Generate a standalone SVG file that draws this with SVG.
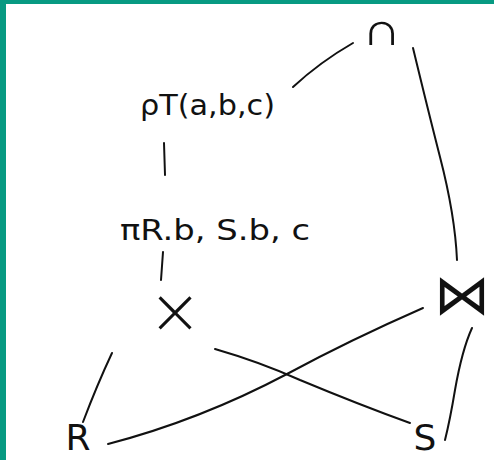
<svg xmlns="http://www.w3.org/2000/svg" width="494" height="460" viewBox="0 0 494 460">
<style>
.ink{fill:none;stroke:#111;stroke-width:2;stroke-linecap:round;stroke-linejoin:round}
.lbl{font-family:"DejaVu Sans","Liberation Sans",sans-serif;fill:#111}
</style>
<rect x="0" y="0" width="494" height="460" fill="#fff"/>
<rect x="0" y="0" width="494" height="4" fill="#079A82"/>
<rect x="0" y="0" width="6" height="460" fill="#079A82"/>
<g id="connectors">
<path class="ink" d="M353,43 Q320,62 293,87"/>
<path class="ink" d="M413,48 Q428,110 440,157 Q455,215 457,260"/>
<path class="ink" d="M164,143 L165,175"/>
<path class="ink" d="M163,252 L161,280"/>
<path class="ink" d="M112,353 Q97,385 83,422"/>
<path class="ink" d="M423,308 Q350,340 287,374 Q200,420 108,444"/>
<path class="ink" d="M215,349 Q260,362 300,380 Q360,405 410,423"/>
<path class="ink" d="M472,328 Q462,350 455,390 Q450,420 445,440"/>
</g>
<g id="intersect"><text class="lbl" x="362" y="45" font-size="46" font-weight="300" textLength="40" lengthAdjust="spacingAndGlyphs">∩</text></g>
<g id="rename"><text class="lbl" x="140" y="115" font-size="28" textLength="135" lengthAdjust="spacingAndGlyphs">ρT(a,b,c)</text></g>
<g id="project"><text class="lbl" x="120" y="240" font-size="28" textLength="190" lengthAdjust="spacingAndGlyphs">πR.b, S.b, c</text></g>
<g id="cross"><text class="lbl" x="175" y="333" font-size="64" font-weight="300" text-anchor="middle">×</text></g>
<g id="join"><text class="lbl" x="462" y="314" font-size="56" text-anchor="middle">⋈</text></g>
<g id="R"><text class="lbl" x="78" y="450" font-size="36" text-anchor="middle">R</text></g>
<g id="S"><text class="lbl" x="425" y="450" font-size="36" text-anchor="middle">S</text></g>
</svg>
